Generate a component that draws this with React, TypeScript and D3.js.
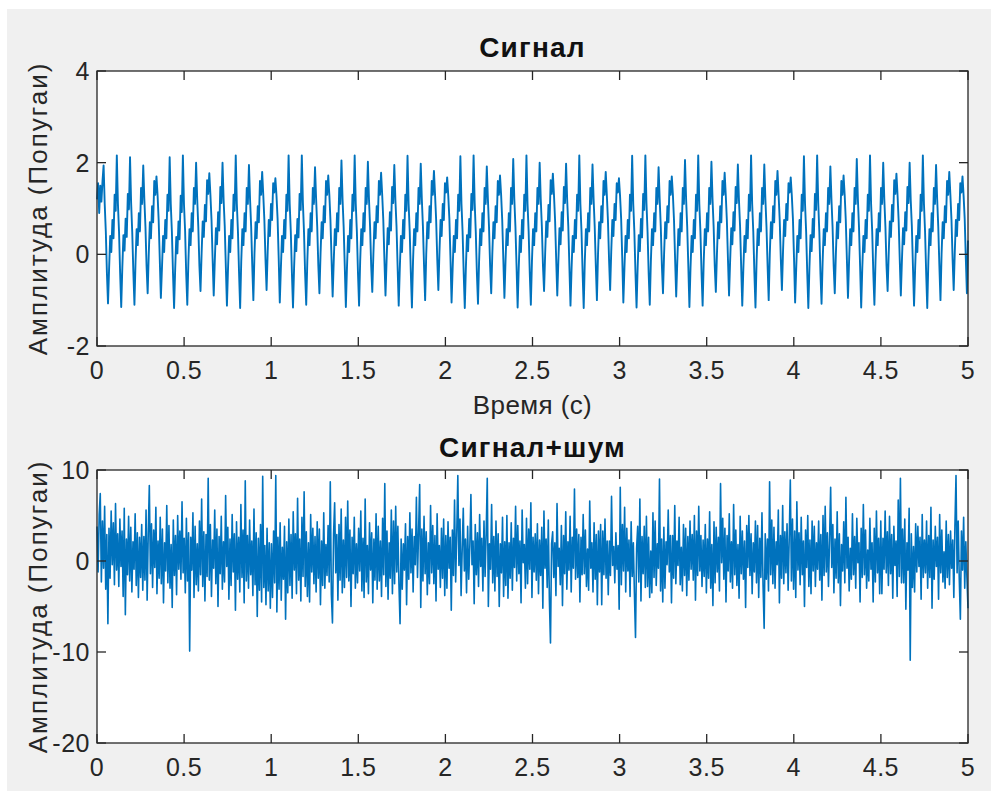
import React from "react";
import * as d3 from "d3";

// ---------- data ----------
const T_END = 5;
const xTicks = [0, 0.5, 1, 1.5, 2, 2.5, 3, 3.5, 4, 4.5, 5];
const yTicksTop = [-2, 0, 2, 4];
const yTicksBottom = [-20, -10, 0, 10];
const titleTop = "Сигнал";
const titleBottom = "Сигнал+шум";
const xLabel = "Время (с)";
const yLabel = "Амплитуда (Попугаи)";

// clean signal, uniformly sampled over 0..5 s
const signal = [
  1.20, 1.55, 0.90, 1.50, 1.15, 1.60, 1.94, 1.10, 0.50, -0.40,
  -1.07, -0.30, 0.40, 0.05, 0.75, 0.35, 1.30, 0.95, 2.16, 1.10, 0.50, -0.40,
  -1.15, -0.28, 0.42, 0.08, 0.78, 0.38, 1.32, 0.98, 2.12, 1.12, 0.48, -0.38,
  -1.10, -0.15, 0.55, 0.20, 0.90, 0.50, 1.45, 1.10, 1.94, 1.20, 0.60, -0.25,
  -0.85, 0.00, 0.70, 0.35, 1.05, 0.70, 1.60, 1.30, 1.70, 1.30, 0.75, -0.10,
  -0.95, -0.30, 0.40, 0.05, 0.75, 0.35, 1.30, 0.95, 2.12, 1.10, 0.50, -0.40,
  -1.17, -0.32, 0.38, 0.02, 0.72, 0.33, 1.28, 0.92, 2.16, 1.08, 0.52, -0.42,
  -1.10, -0.15, 0.55, 0.20, 0.90, 0.50, 1.45, 1.10, 2.00, 1.20, 0.60, -0.25,
  -0.80, 0.02, 0.72, 0.38, 1.08, 0.72, 1.62, 1.32, 1.77, 1.30, 0.75, -0.10,
  -0.90, -0.13, 0.57, 0.22, 0.92, 0.52, 1.47, 1.12, 2.00, 1.18, 0.62, -0.27,
  -1.12, -0.30, 0.40, 0.05, 0.75, 0.35, 1.30, 0.95, 2.16, 1.10, 0.50, -0.40,
  -1.17, -0.15, 0.55, 0.20, 0.90, 0.50, 1.45, 1.10, 1.95, 1.20, 0.60, -0.25,
  -1.00, 0.00, 0.70, 0.35, 1.05, 0.70, 1.60, 1.30, 1.80, 1.30, 0.75, -0.10,
  -0.78, 0.05, 0.75, 0.40, 1.10, 0.75, 1.55, 1.35, 1.66, 1.28, 0.78, -0.08,
  -1.05, -0.30, 0.40, 0.05, 0.75, 0.35, 1.30, 0.95, 2.16, 1.10, 0.50, -0.40,
  -1.16, -0.28, 0.42, 0.07, 0.77, 0.37, 1.32, 0.97, 2.16, 1.12, 0.48, -0.42,
  -1.10, -0.15, 0.55, 0.20, 0.90, 0.50, 1.45, 1.10, 1.90, 1.20, 0.60, -0.25,
  -0.85, 0.00, 0.70, 0.35, 1.05, 0.70, 1.60, 1.30, 1.72, 1.30, 0.75, -0.10,
  -0.92, -0.15, 0.55, 0.20, 0.90, 0.50, 1.45, 1.10, 2.05, 1.20, 0.60, -0.25,
  -1.15, -0.30, 0.40, 0.05, 0.75, 0.35, 1.30, 0.95, 2.16, 1.10, 0.50, -0.40,
  -1.12, -0.15, 0.55, 0.20, 0.90, 0.50, 1.45, 1.10, 2.02, 1.20, 0.60, -0.25,
  -0.82, 0.00, 0.70, 0.35, 1.05, 0.70, 1.60, 1.30, 1.78, 1.30, 0.75, -0.10,
  -0.90, -0.13, 0.57, 0.22, 0.92, 0.52, 1.47, 1.12, 1.95, 1.18, 0.62, -0.27,
  -1.12, -0.30, 0.40, 0.05, 0.75, 0.35, 1.30, 0.95, 2.15, 1.10, 0.50, -0.40,
  -1.16, -0.15, 0.55, 0.20, 0.90, 0.50, 1.45, 1.10, 1.98, 1.20, 0.60, -0.25,
  -1.00, 0.00, 0.70, 0.35, 1.05, 0.70, 1.60, 1.30, 1.82, 1.30, 0.75, -0.10,
  -0.78, 0.05, 0.75, 0.40, 1.10, 0.75, 1.55, 1.35, 1.68, 1.28, 0.78, -0.08,
  -1.05, -0.30, 0.40, 0.05, 0.75, 0.35, 1.30, 0.95, 2.14, 1.10, 0.50, -0.40,
  -1.17, -0.28, 0.42, 0.07, 0.77, 0.37, 1.32, 0.97, 2.16, 1.12, 0.48, -0.42,
  -1.08, -0.15, 0.55, 0.20, 0.90, 0.50, 1.45, 1.10, 1.92, 1.20, 0.60, -0.25,
  -0.85, 0.00, 0.70, 0.35, 1.05, 0.70, 1.60, 1.30, 1.72, 1.30, 0.75, -0.10,
  -0.95, -0.15, 0.55, 0.20, 0.90, 0.50, 1.45, 1.10, 2.08, 1.20, 0.60, -0.25,
  -1.16, -0.30, 0.40, 0.05, 0.75, 0.35, 1.30, 0.95, 2.16, 1.10, 0.50, -0.40,
  -1.10, -0.15, 0.55, 0.20, 0.90, 0.50, 1.45, 1.10, 2.00, 1.20, 0.60, -0.25,
  -0.80, 0.02, 0.72, 0.38, 1.08, 0.72, 1.62, 1.32, 1.76, 1.30, 0.75, -0.10,
  -0.90, -0.13, 0.57, 0.22, 0.92, 0.52, 1.47, 1.12, 1.98, 1.18, 0.62, -0.27,
  -1.12, -0.30, 0.40, 0.05, 0.75, 0.35, 1.30, 0.95, 2.16, 1.10, 0.50, -0.40,
  -1.17, -0.15, 0.55, 0.20, 0.90, 0.50, 1.45, 1.10, 1.96, 1.20, 0.60, -0.25,
  -1.00, 0.00, 0.70, 0.35, 1.05, 0.70, 1.60, 1.30, 1.80, 1.30, 0.75, -0.10,
  -0.78, 0.05, 0.75, 0.40, 1.10, 0.75, 1.55, 1.35, 1.66, 1.28, 0.78, -0.08,
  -1.05, -0.30, 0.40, 0.05, 0.75, 0.35, 1.30, 0.95, 2.15, 1.10, 0.50, -0.40,
  -1.16, -0.28, 0.42, 0.07, 0.77, 0.37, 1.32, 0.97, 2.16, 1.12, 0.48, -0.42,
  -1.10, -0.15, 0.55, 0.20, 0.90, 0.50, 1.45, 1.10, 1.90, 1.20, 0.60, -0.25,
  -0.85, 0.00, 0.70, 0.35, 1.05, 0.70, 1.60, 1.30, 1.70, 1.30, 0.75, -0.10,
  -0.92, -0.15, 0.55, 0.20, 0.90, 0.50, 1.45, 1.10, 2.06, 1.20, 0.60, -0.25,
  -1.15, -0.30, 0.40, 0.05, 0.75, 0.35, 1.30, 0.95, 2.16, 1.10, 0.50, -0.40,
  -1.12, -0.15, 0.55, 0.20, 0.90, 0.50, 1.45, 1.10, 2.02, 1.20, 0.60, -0.25,
  -0.82, 0.00, 0.70, 0.35, 1.05, 0.70, 1.60, 1.30, 1.78, 1.30, 0.75, -0.10,
  -0.90, -0.13, 0.57, 0.22, 0.92, 0.52, 1.47, 1.12, 1.96, 1.18, 0.62, -0.27,
  -1.12, -0.30, 0.40, 0.05, 0.75, 0.35, 1.30, 0.95, 2.16, 1.10, 0.50, -0.40,
  -1.16, -0.15, 0.55, 0.20, 0.90, 0.50, 1.45, 1.10, 1.96, 1.20, 0.60, -0.25,
  -1.00, 0.00, 0.70, 0.35, 1.05, 0.70, 1.60, 1.30, 1.82, 1.30, 0.75, -0.10,
  -0.78, 0.05, 0.75, 0.40, 1.10, 0.75, 1.55, 1.35, 1.68, 1.28, 0.78, -0.08,
  -1.05, -0.30, 0.40, 0.05, 0.75, 0.35, 1.30, 0.95, 2.14, 1.10, 0.50, -0.40,
  -1.17, -0.28, 0.42, 0.07, 0.77, 0.37, 1.32, 0.97, 2.16, 1.12, 0.48, -0.42,
  -1.08, -0.15, 0.55, 0.20, 0.90, 0.50, 1.45, 1.10, 1.92, 1.20, 0.60, -0.25,
  -0.85, 0.00, 0.70, 0.35, 1.05, 0.70, 1.60, 1.30, 1.72, 1.30, 0.75, -0.10,
  -0.95, -0.15, 0.55, 0.20, 0.90, 0.50, 1.45, 1.10, 2.08, 1.20, 0.60, -0.25,
  -1.16, -0.30, 0.40, 0.05, 0.75, 0.35, 1.30, 0.95, 2.16, 1.10, 0.50, -0.40,
  -1.10, -0.15, 0.55, 0.20, 0.90, 0.50, 1.45, 1.10, 2.00, 1.20, 0.60, -0.25,
  -0.80, 0.02, 0.72, 0.38, 1.08, 0.72, 1.62, 1.32, 1.76, 1.30, 0.75, -0.10,
  -0.90, -0.13, 0.57, 0.22, 0.92, 0.52, 1.47, 1.12, 2.00, 1.18, 0.62, -0.27,
  -1.12, -0.30, 0.40, 0.05, 0.75, 0.35, 1.30, 0.95, 2.16, 1.10, 0.50, -0.40,
  -1.17, -0.15, 0.55, 0.20, 0.90, 0.50, 1.45, 1.10, 1.95, 1.20, 0.60, -0.25,
  -1.00, 0.00, 0.70, 0.35, 1.05, 0.70, 1.60, 1.30, 1.80, 1.30, 0.75, -0.10,
  -0.78, 0.05, 0.75, 0.40, 1.10, 0.75, 1.55, 1.35, 1.70, 1.28, 0.78, -0.08,
  -0.85, 0.30,
];

// signal + noise, uniformly sampled over 0..5 s
const noisy = [
  3.8, -1.2, 5.1, 7.4, -2.3, 4.4, -0.8, 6.0, -3.1, 2.9, -6.9, 3.6, -1.9, 5.5, -0.4, 4.2, -2.6, 6.3, -1.0, 3.0,
  -2.8, 4.6, -0.6, 3.3, -3.9, 5.8, -5.9, 2.4, -1.5, 4.9, -2.2, 3.7, -3.4, 2.1, -0.9, 5.2, -2.7, 3.1, -4.0, 2.6,
  -1.8, 4.0, -3.2, 2.7, -2.1, 5.6, -4.3, 3.0, 8.3, -1.4, 4.1, -2.9, 3.4, -0.7, 5.9, -3.6, 2.2, -1.9, 4.8, -2.5,
  3.5, -4.6, 2.0, -1.1, 6.1, -2.4, 3.9, -3.0, 1.8, -5.1, 4.5, -1.6, 2.8, -3.7, 5.0, -0.9, 3.3, -2.0, 6.5, -1.3,
  2.5, -3.5, 4.7, -2.2, 3.1, -9.9, 2.6, -1.0, 5.3, -4.0, 3.8, -2.6, 1.9, -3.3, 4.4, -1.5, 6.8, -2.8, 3.2, -4.4,
  2.9, -1.7, 9.1, -2.1, 4.0, -3.9, 2.3, -0.8, 5.6, -2.5, 3.5, -5.0, 2.7, -1.4, 4.9, -3.1, 2.1, -2.3, 7.2, -0.6,
  3.7, -4.2, 2.4, -2.7, 5.1, -1.2, 3.0, -5.4, 4.3, -2.0, 2.6, -3.4, 6.2, -1.8, 3.4, -4.6, 8.8, -2.2, 2.8, -3.0,
  4.5, -1.5, 2.2, -3.8, 5.7, -2.6, 3.1, -6.1, 2.5, -3.2, 4.0, -4.5, 9.3, -2.9, 1.7, -4.8, 3.6, -3.3, 2.0, -5.2,
  1.9, -4.0, 3.3, -2.4, 9.4, -5.6, 2.6, -3.1, 4.2, -4.3, 1.5, -2.0, 3.8, -6.4, 2.1, -3.5, 4.6, -2.7, 2.9, -4.1,
  5.4, -1.0, 3.0, -3.6, 6.9, -2.1, 2.4, -4.4, 4.8, -1.7, 7.6, -2.8, 3.2, -3.9, 2.0, -4.5, 5.1, -1.2, 3.6, -2.5,
  2.7, -3.4, 4.3, -1.9, 3.5, -4.8, 2.2, -2.7, 5.3, -3.0, 1.8, -1.6, 3.9, -2.3, 8.7, -3.7, -6.8, 2.9, 6.4, -1.3,
  2.9, -4.3, 4.0, -2.1, 5.7, -3.5, 2.3, -2.9, 4.8, -1.8, 6.6, -2.2, 3.4, -5.0, 2.6, -1.4, 4.8, -3.0, 1.9, -2.4,
  3.6, -1.1, 5.5, -3.3, 2.5, -4.0, 6.8, -2.3, 1.7, -3.6, 4.2, -1.0, 3.1, -4.6, 2.4, -2.1, 5.2, -3.1, 3.8, -2.2,
  2.2, -3.9, 4.7, -1.5, 8.5, -2.8, 3.3, -4.2, 2.0, -1.9, 5.6, -3.6, 4.4, -2.5, 6.0, -1.2, 3.8, -2.6, -6.9, 2.4,
  -3.1, 1.9, -1.0, 4.1, -4.8, 2.7, -2.0, 5.3, -1.3, 3.5, -3.4, 2.7, -0.4, 7.0, -1.8, 3.2, 8.4, -5.1, 3.5, -2.2,
  4.9, -1.4, 3.2, -3.7, 2.0, -2.5, 6.1, -1.3, 3.9, -2.5, 2.8, -4.4, 5.2, -0.9, 1.7, -2.9, 3.6, -1.9, 4.6, -3.8,
  2.8, -3.0, 4.3, -0.8, 2.6, -5.4, 3.4, -1.6, 6.7, -2.3, 2.9, 9.4, -0.5, 4.6, -3.8, 1.3, 5.8, -1.1, 2.4, -3.5,
  3.8, -2.0, 1.6, 7.3, -0.4, 2.2, -4.7, 4.0, -1.5, 3.1, -2.8, 5.1, -0.6, 2.5, -3.3, 4.4, -1.7, 3.0, 9.1, -5.0,
  1.9, -0.9, 6.2, -2.4, 2.7, -3.3, 4.4, -1.7, 3.0, -5.0, 1.9, -1.3, 4.8, -3.9, 2.1, -2.7, 5.0, -4.1, 2.0, -1.9,
  4.2, -3.2, 2.5, -0.7, 6.0, -2.2, 3.9, -1.4, 2.2, -4.6, 5.6, -0.2, 1.8, -3.0, 4.7, -2.5, 3.5, -0.9, 6.4, -4.0,
  2.6, -1.2, 3.0, -2.1, 4.1, -3.6, 2.3, -1.6, 3.7, -5.2, 5.5, -0.8, 2.4, -2.9, 4.5, -4.3, -9.0, 1.9, 3.2, -1.8,
  2.0, -3.8, 6.3, -0.6, 1.4, -2.6, 3.9, -4.9, 2.8, -1.4, 5.4, -3.1, 2.1, -1.0, 4.9, -3.4, 2.6, -0.8, 7.9, -2.0,
  3.5, -1.8, 2.9, -4.5, 2.6, -1.5, 5.1, -1.4, 3.4, -2.8, 1.3, -3.2, 6.6, -0.8, 2.0, -3.4, 4.2, -2.0, 2.9, -4.8,
  3.3, -1.2, 4.0, -4.8, 3.3, -1.5, 4.6, -1.9, 2.2, -3.7, 2.2, -1.6, 7.1, -0.5, 1.6, -2.4, 3.1, -0.9, 1.7, -5.3,
  8.1, -2.6, 4.0, -1.1, 5.9, -3.4, 3.6, -1.1, 2.3, -3.9, 4.3, -1.7, 2.0, -3.6, -8.4, 1.4, 3.8, -2.3, 6.8, -4.4,
  2.7, -1.4, 3.8, -2.9, 4.9, -2.8, 2.6, -4.0, 1.1, -3.5, 5.3, -1.8, 4.4, -2.7, 1.9, -0.8, 9.0, -3.3, 2.4, -4.5,
  3.7, -3.0, 2.1, -0.4, 5.6, -1.2, 2.8, -4.6, 2.8, -1.9, 6.1, -2.5, 2.2, -0.5, 4.8, -2.6, 1.5, -3.3, 4.0, -1.6,
  3.6, -3.8, 2.7, -2.1, 4.4, -0.9, 2.9, -2.1, 5.0, -4.3, 3.3, -1.6, 6.0, -1.1, 2.8, -2.8, 2.3, -1.7, 4.0, -3.5,
  2.4, -1.9, 5.4, -3.0, 1.8, -4.9, 4.3, -2.4, 3.7, -1.2, 2.6, -3.3, 8.5, -0.2, 4.7, -2.0, 3.6, -4.5, 2.8, -1.1,
  5.2, -2.3, 2.1, -3.0, 6.2, -1.5, 3.4, -2.7, 1.8, -4.1, 4.9, -1.4, 3.3, -2.0, 2.2, -5.1, 3.9, -0.7, 5.0, -1.6,
  3.0, -3.6, 2.0, -1.2, 4.4, -2.4, 3.9, -4.0, 2.5, -1.8, 5.3, -2.7, -7.4, 3.0, -2.0, 2.4, -3.3, 8.7, -1.5, 4.5,
  -2.5, 3.7, -3.0, 2.1, -0.4, 5.6, -4.6, 2.8, -1.9, 6.1, -2.5, 3.2, -1.3, 4.1, -3.2, 2.5, 8.9, -2.2, 4.6, -3.1,
  3.3, -4.0, 6.5, -1.0, 3.1, -2.6, 4.8, -1.5, 2.2, -5.0, 3.4, -0.7, 5.0, -2.8, 2.3, -3.6, 4.4, -1.1, 3.8, -2.8,
  2.0, -0.9, 4.4, -2.1, 2.9, -4.3, 5.0, -1.6, 6.0, -1.2, 3.1, -2.8, 2.3, 8.1, -0.7, 4.0, -3.5, 2.4, -1.9, 5.4,
  -2.4, 3.0, -4.9, 1.8, -1.1, 4.3, -2.4, 7.0, -0.8, 2.6, -3.3, 1.4, -2.0, 5.2, -1.5, 2.7, -3.0, 4.7, -0.2, 2.0,
  -4.5, 3.6, -1.8, 6.2, -1.5, 3.4, -3.0, 1.2, -2.2, 4.7, -0.9, 2.0, -4.5, 3.6, -2.3, 5.5, -1.3, 2.5, -3.6, 4.4,
  -3.6, 2.5, -0.9, 5.5, -1.3, 3.2, -2.7, 4.9, -1.4, 2.9, -4.1, 3.8, -0.5, 2.2, -3.9, 6.7, -1.7, 9.1, -2.4, 3.5,
  -2.4, 4.6, -5.3, 2.0, -1.0, 5.8, -10.9, 3.0, -2.9, 1.6, -3.4, 4.1, -1.2, 3.8, -0.6, 2.6, -4.2, 5.1, -1.8, 2.3,
  -1.3, 4.4, -3.0, 2.8, -1.8, 5.9, -5.2, 2.3, -2.0, 3.8, -0.6, 2.6, -4.2, 5.1, -1.3, 3.4, -2.3, 1.0, -3.0, 4.4,
  -1.8, 2.9, -2.6, 3.3, -0.8, 2.3, -4.0, 3.8, 9.4, -1.3, 4.4, -2.0, -6.4, 3.3, -1.0, 4.8, -3.0, 2.1, -1.8, -5.2,
];

// ---------- layout ----------
const W = 991;
const H = 791;
const LEFT = 97;
const RIGHT = 968;
const TICK = 9;
const AXIS_COLOR = "#262626";
const LINE_COLOR = "#0072BD";
const FONT = "'Liberation Sans', Arial, Helvetica, sans-serif";
const FS_TICK = 25;
const FS_LABEL = 26;
const FS_TITLE = 28;

function fmt(v: number) {
  return String(v);
}

function Panel(props: {
  top: number;
  bottom: number;
  yDomain: [number, number];
  yTicks: number[];
  values: number[];
  title: string;
  titleY: number;
  lineWidth: number;
  xLabelText?: string;
}) {
  const { top, bottom, yDomain, yTicks, values, title, titleY, lineWidth, xLabelText } = props;
  const x = d3.scaleLinear().domain([0, T_END]).range([LEFT, RIGHT]);
  const y = d3.scaleLinear().domain(yDomain).range([bottom, top]);
  const n = values.length;
  const times = values.map((_, i) => (i * T_END) / (n - 1));
  const line = d3
    .line<number>()
    .x((_, i) => x(times[i]))
    .y((d) => y(d));
  const cx = (LEFT + RIGHT) / 2;
  const cy = (top + bottom) / 2;
  return (
    <g>
      <rect x={LEFT} y={top} width={RIGHT - LEFT} height={bottom - top} fill="#ffffff" />
      <path d={line(values) || ""} fill="none" stroke={LINE_COLOR} strokeWidth={lineWidth} strokeLinejoin="round" />
      {xTicks.map((t) => (
        <g key={"xt" + t}>
          <line x1={x(t)} x2={x(t)} y1={bottom} y2={bottom - TICK} stroke={AXIS_COLOR} strokeWidth={1.3} />
          <line x1={x(t)} x2={x(t)} y1={top} y2={top + TICK} stroke={AXIS_COLOR} strokeWidth={1.3} />
          <text
            x={x(t)}
            y={bottom + 33}
            textAnchor="middle"
            fontFamily={FONT}
            fontSize={FS_TICK}
            letterSpacing={0.5}
            fill={AXIS_COLOR}
          >
            {fmt(t)}
          </text>
        </g>
      ))}
      {yTicks.map((t) => (
        <g key={"yt" + t}>
          <line x1={LEFT} x2={LEFT + TICK} y1={y(t)} y2={y(t)} stroke={AXIS_COLOR} strokeWidth={1.3} />
          <line x1={RIGHT} x2={RIGHT - TICK} y1={y(t)} y2={y(t)} stroke={AXIS_COLOR} strokeWidth={1.3} />
          <text
            x={LEFT - 7}
            y={y(t) + 9}
            textAnchor="end"
            fontFamily={FONT}
            fontSize={FS_TICK}
            letterSpacing={0.5}
            fill={AXIS_COLOR}
          >
            {fmt(t)}
          </text>
        </g>
      ))}
      <rect
        x={LEFT}
        y={top}
        width={RIGHT - LEFT}
        height={bottom - top}
        fill="none"
        stroke={AXIS_COLOR}
        strokeWidth={1.3}
      />
      <text
        x={cx}
        y={titleY}
        textAnchor="middle"
        fontFamily={FONT}
        fontSize={FS_TITLE}
        fontWeight="bold"
        letterSpacing={1.2}
        fill="#111111"
      >
        {title}
      </text>
      {xLabelText ? (
        <text
          x={cx}
          y={bottom + 68}
          textAnchor="middle"
          fontFamily={FONT}
          fontSize={FS_LABEL}
          letterSpacing={0.4}
          fill={AXIS_COLOR}
        >
          {xLabelText}
        </text>
      ) : null}
      <text
        transform={`translate(${47},${cy}) rotate(-90)`}
        textAnchor="middle"
        fontFamily={FONT}
        fontSize={FS_LABEL}
        letterSpacing={2}
        fill={AXIS_COLOR}
      >
        {yLabel}
      </text>
    </g>
  );
}

export default function App() {
  return (
    <svg
      width={W}
      height={H}
      style={{ position: "absolute", left: 0, top: 0, display: "block" }}
      xmlns="http://www.w3.org/2000/svg"
    >
      <rect x={0} y={0} width={W} height={H} fill="#ffffff" />
      <rect x={7} y={9} width={W - 7} height={H - 9} fill="#f0f0f0" />
      <Panel
        top={71}
        bottom={346}
        yDomain={[-2, 4]}
        yTicks={yTicksTop}
        values={signal}
        title={titleTop}
        titleY={57}
        lineWidth={1.9}
        xLabelText={xLabel}
      />
      <Panel
        top={470}
        bottom={743}
        yDomain={[-20, 10]}
        yTicks={yTicksBottom}
        values={noisy}
        title={titleBottom}
        titleY={457}
        lineWidth={1.6}
      />
    </svg>
  );
}
